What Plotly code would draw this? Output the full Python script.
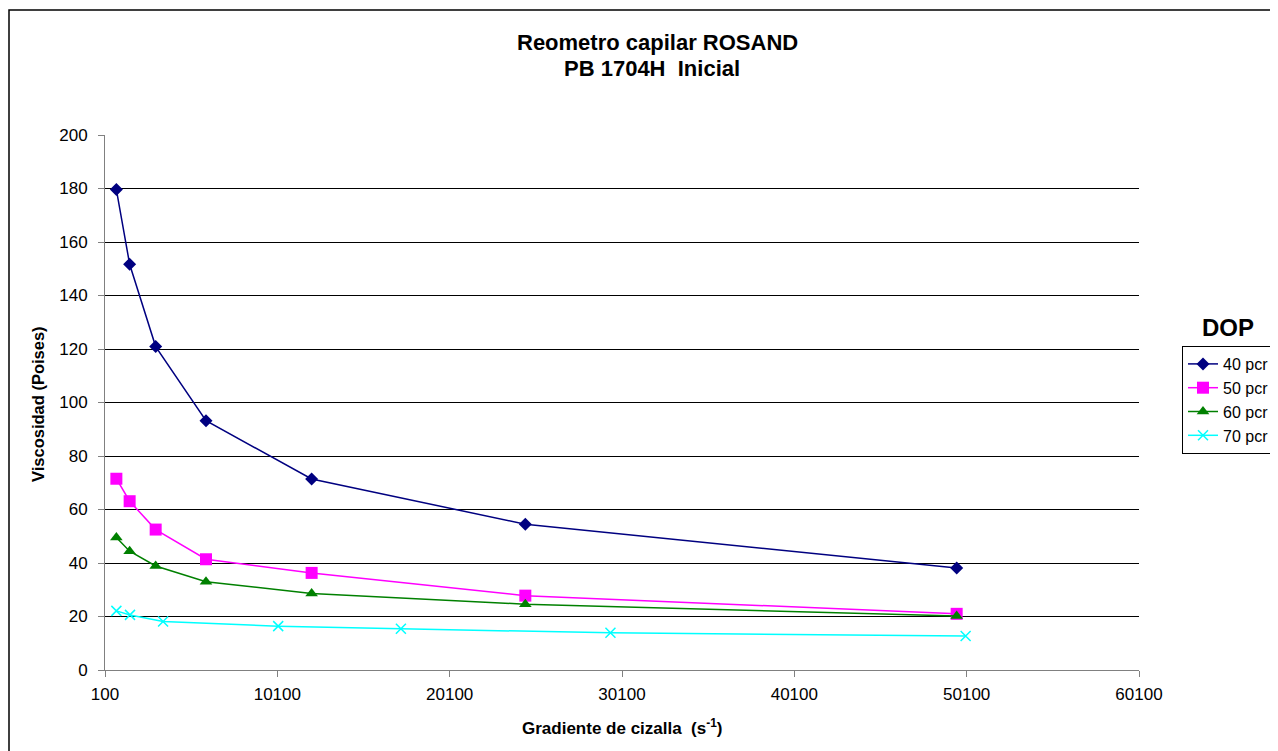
import plotly.graph_objects as go

# Data
x_main = [760, 1530, 3040, 5960, 12090, 24490, 49520]
x_70 = [760, 1550, 3470, 10150, 17270, 29430, 50040]
visc_40 = [179.6, 151.7, 120.9, 93.2, 71.4, 54.5, 38.1]
visc_50 = [71.5, 63.1, 52.5, 41.4, 36.3, 27.8, 21.0]
visc_60 = [49.5, 44.4, 38.9, 33.0, 28.6, 24.6, 20.2]
visc_70 = [22.1, 20.6, 18.1, 16.4, 15.4, 13.9, 12.7]
series_names = ["40 pcr", "50 pcr", "60 pcr", "70 pcr"]
x_ticks = [100, 10100, 20100, 30100, 40100, 50100, 60100]
y_ticks = [0, 20, 40, 60, 80, 100, 120, 140, 160, 180, 200]

FONT = "Liberation Sans, Arial, sans-serif"
OFF = 8  # page body margin
W, H = 1270, 743
# plot area in screen pixels: x 105..1139, y 135..670
ML = 105 - OFF
MR = W - (1139 - OFF)
MT = 135 - OFF
MB = H - (670 - OFF)

fig = go.Figure()
fig.add_trace(go.Scatter(x=x_main, y=visc_40, name=series_names[0], mode="lines+markers",
                         line=dict(color="#000080", width=1.5),
                         marker=dict(symbol="diamond", size=10, color="#000080")))
fig.add_trace(go.Scatter(x=x_main, y=visc_50, name=series_names[1], mode="lines+markers",
                         line=dict(color="#FF00FF", width=1.5),
                         marker=dict(symbol="square", size=12, color="#FF00FF")))
fig.add_trace(go.Scatter(x=x_main, y=visc_60, name=series_names[2], mode="lines+markers",
                         line=dict(color="#008000", width=1.5),
                         marker=dict(symbol="triangle-up", size=11, color="#008000")))
fig.add_trace(go.Scatter(x=x_70, y=visc_70, name=series_names[3], mode="lines+markers",
                         line=dict(color="#00FFFF", width=1.5),
                         marker=dict(symbol="x-thin", size=10, color="#00FFFF",
                                     line=dict(color="#00FFFF", width=1.5))))


def px_x(sx):
    return (sx - OFF - ML) / (W - ML - MR)


def px_y(sy):
    return (H - MB - (sy - OFF)) / (H - MT - MB)


fig.update_layout(
    width=W, height=H,
    margin=dict(l=ML, r=MR, t=MT, b=MB, autoexpand=False),
    paper_bgcolor="white", plot_bgcolor="white",
    font=dict(family=FONT, size=17, color="black"),
    showlegend=True,
    legend=dict(x=px_x(1182), y=px_y(346),
                xanchor="left", yanchor="top",
                bordercolor="black", borderwidth=1, bgcolor="white",
                font=dict(family=FONT, size=16, color="black"),
                tracegroupgap=0, itemwidth=30),
)
fig.update_xaxes(range=[100, 60100], tickvals=x_ticks, ticktext=[str(v) for v in x_ticks],
                 showgrid=False, zeroline=False, showline=True, linecolor="#808080", linewidth=1,
                 ticks="outside", ticklen=6, tickcolor="#808080", ticklabelstandoff=3,
                 tickfont=dict(family=FONT, size=17, color="black"))
fig.update_yaxes(range=[0, 200], tickvals=y_ticks, ticktext=[str(v) for v in y_ticks],
                 showgrid=True, gridcolor="black", gridwidth=1, zeroline=False,
                 showline=True, linecolor="#808080", linewidth=1,
                 ticks="outside", ticklen=6, tickcolor="#808080", ticklabelstandoff=7,
                 tickfont=dict(family=FONT, size=17, color="black"))

# Outer chart border
fig.add_shape(type="rect", xref="paper", yref="paper",
              x0=px_x(9), x1=px_x(1300), y0=px_y(10), y1=px_y(780),
              line=dict(color="black", width=1.5), fillcolor="rgba(0,0,0,0)", layer="below")

annos = [
    dict(text="<b>Reometro capilar ROSAND</b>", x=px_x(657), y=px_y(43), size=22),
    dict(text="<b>PB 1704H  Inicial</b>", x=px_x(652), y=px_y(68), size=22),
    dict(text="<b>Gradiente de cizalla  (s<sup>-1</sup>)</b>", x=px_x(622), y=px_y(727), size=17),
    dict(text="<b>DOP</b>", x=px_x(1228), y=px_y(327), size=24),
]
for a in annos:
    fig.add_annotation(text=a["text"], x=a["x"], y=a["y"], xref="paper", yref="paper",
                       showarrow=False, xanchor="center", yanchor="middle",
                       font=dict(family=FONT, size=a["size"], color="black"))
fig.add_annotation(text="<b>Viscosidad (Poises)</b>", x=px_x(38), y=px_y(404),
                   xref="paper", yref="paper", showarrow=False, textangle=-90,
                   xanchor="center", yanchor="middle",
                   font=dict(family=FONT, size=16.5, color="black"))

fig.write_html("out.html")
